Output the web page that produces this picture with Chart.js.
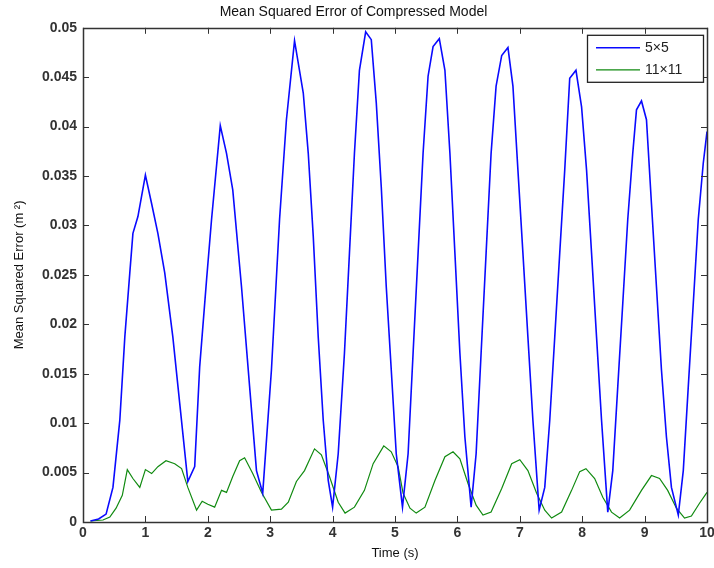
<!DOCTYPE html>
<html>
<head>
<meta charset="utf-8">
<script src="https://cdn.jsdelivr.net/npm/chart.js@4.4.1/dist/chart.umd.min.js"></script>
<style>
  html, body { margin: 0; padding: 0; background: #fff; }
  #mse { display: block; }
</style>
</head>
<body>
<canvas id="mse" width="714" height="568"></canvas>
<script>
// 5x5 kernel error over time
const timeA = [0.12, 0.25, 0.37, 0.48, 0.59, 0.67, 0.75, 0.8, 0.88, 1.0, 1.1, 1.2, 1.31, 1.44, 1.55, 1.68, 1.79, 1.87, 1.98, 2.06,
  2.2, 2.3, 2.4, 2.54, 2.67, 2.78, 2.88, 3.02, 3.15, 3.26, 3.39, 3.53, 3.61, 3.69, 3.77, 3.85, 3.93, 4.0, 4.09, 4.19,
  4.27, 4.35, 4.43, 4.53, 4.62, 4.7, 4.78, 4.86, 4.94, 5.02, 5.12, 5.21, 5.29, 5.37, 5.45, 5.53, 5.61, 5.71, 5.8, 5.88,
  5.96, 6.04, 6.12, 6.22, 6.3, 6.38, 6.46, 6.54, 6.62, 6.71, 6.81, 6.89, 6.97, 7.05, 7.13, 7.21, 7.31, 7.4, 7.48, 7.56,
  7.64, 7.72, 7.8, 7.9, 7.99, 8.07, 8.15, 8.23, 8.31, 8.41, 8.49, 8.57, 8.65, 8.73, 8.81, 8.87, 8.95, 9.03, 9.11, 9.19,
  9.27, 9.35, 9.43, 9.54, 9.62, 9.7, 9.78, 9.86, 9.94, 10.0];
const mse5 = [0.0001, 0.0003, 0.0008, 0.0035, 0.0103, 0.0187, 0.0252, 0.0292, 0.0309, 0.0351, 0.0322, 0.0292, 0.0252, 0.0187, 0.0120, 0.0041, 0.0056, 0.0157, 0.0245, 0.0306,
  0.0401, 0.0373, 0.0336, 0.0238, 0.0137, 0.0052, 0.0029, 0.0154, 0.0306, 0.0407, 0.0487, 0.0434, 0.0373, 0.0289, 0.0187, 0.0103, 0.0042, 0.0015, 0.0069, 0.0171,
  0.0272, 0.0373, 0.0457, 0.0496, 0.0488, 0.0424, 0.0339, 0.0238, 0.0154, 0.0069, 0.0015, 0.0069, 0.0171, 0.0272, 0.0373, 0.0451, 0.0481, 0.0489, 0.0457, 0.0373,
  0.0272, 0.0171, 0.0086, 0.0015, 0.0069, 0.0171, 0.0272, 0.0373, 0.0441, 0.0472, 0.0480, 0.0441, 0.0356, 0.0272, 0.0187, 0.0103, 0.0012, 0.0035, 0.0103, 0.0187,
  0.0272, 0.0356, 0.0449, 0.0457, 0.0420, 0.0356, 0.0272, 0.0187, 0.0103, 0.0010, 0.0052, 0.0137, 0.0221, 0.0306, 0.0373, 0.0417, 0.0426, 0.0407, 0.0322, 0.0238,
  0.0154, 0.0086, 0.0035, 0.0007, 0.0052, 0.0137, 0.0221, 0.0306, 0.0363, 0.0395];

// 11x11 kernel error over time
const timeB = [0.12, 0.32, 0.43, 0.53, 0.63, 0.71, 0.8, 0.91, 1.0, 1.1, 1.2, 1.33, 1.47, 1.58, 1.68, 1.82, 1.91, 2.0, 2.11, 2.22,
  2.3, 2.4, 2.51, 2.59, 2.72, 2.86, 3.02, 3.18, 3.29, 3.42, 3.55, 3.71, 3.82, 3.95, 4.09, 4.2, 4.35, 4.51, 4.65, 4.82,
  4.94, 5.05, 5.13, 5.24, 5.34, 5.48, 5.64, 5.8, 5.93, 6.04, 6.17, 6.3, 6.41, 6.54, 6.71, 6.87, 7.0, 7.13, 7.27, 7.4,
  7.51, 7.67, 7.83, 7.96, 8.06, 8.2, 8.33, 8.47, 8.6, 8.76, 8.95, 9.11, 9.24, 9.37, 9.51, 9.64, 9.75, 9.88, 10.0];
const mse11 = [0.0001, 0.0002, 0.0005, 0.0014, 0.0027, 0.0053, 0.0044, 0.0035, 0.0053, 0.0049, 0.0056, 0.0062, 0.0059, 0.0054, 0.0035, 0.0012, 0.0021, 0.0018, 0.0015, 0.0032,
  0.0030, 0.0046, 0.0062, 0.0065, 0.0049, 0.0030, 0.0012, 0.0013, 0.0020, 0.0041, 0.0052, 0.0074, 0.0068, 0.0046, 0.0020, 0.0009, 0.0015, 0.0032, 0.0059, 0.0077,
  0.0071, 0.0056, 0.0029, 0.0014, 0.0009, 0.0015, 0.0042, 0.0066, 0.0071, 0.0064, 0.0039, 0.0017, 0.0007, 0.0010, 0.0034, 0.0059, 0.0063, 0.0052, 0.0029, 0.0012,
  0.0004, 0.0010, 0.0032, 0.0051, 0.0054, 0.0044, 0.0025, 0.0010, 0.0004, 0.0012, 0.0032, 0.0047, 0.0044, 0.0032, 0.0014, 0.0004, 0.0006, 0.0019, 0.0030];

const seriesNames = ['5\u00d75', '11\u00d711'];
const xTicks = [0, 1, 2, 3, 4, 5, 6, 7, 8, 9, 10];
const yTicks = [0, 0.005, 0.01, 0.015, 0.02, 0.025, 0.03, 0.035, 0.04, 0.045, 0.05];

const toPoints = (xs, ys) => xs.map((x, i) => ({ x: x, y: ys[i] }));

const axisColor = '#333';
const labelFont = { family: 'Liberation Sans, Arial, sans-serif', size: 14, weight: 'bold' };

// matlab style frame: box on all four sides, ticks pointing inward
const framePlugin = {
  id: 'frame',
  afterDatasetsDraw(chart) {
    const { ctx, chartArea: a, scales } = chart;
    const len = 6;
    ctx.save();
    ctx.strokeStyle = axisColor;
    ctx.lineWidth = 1;
    ctx.beginPath();
    xTicks.forEach(v => {
      const px = Math.round(scales.x.getPixelForValue(v)) + 0.5;
      ctx.moveTo(px, a.bottom); ctx.lineTo(px, a.bottom - len);
      ctx.moveTo(px, a.top); ctx.lineTo(px, a.top + len);
    });
    yTicks.forEach(v => {
      const py = Math.round(scales.y.getPixelForValue(v)) + 0.5;
      ctx.moveTo(a.left, py); ctx.lineTo(a.left + len, py);
      ctx.moveTo(a.right, py); ctx.lineTo(a.right - len, py);
    });
    ctx.stroke();
    ctx.lineWidth = 1.5;
    ctx.strokeRect(Math.round(a.left) + 0.5, Math.round(a.top) + 0.5,
      Math.round(a.right - a.left), Math.round(a.bottom - a.top));
    ctx.restore();
  }
};

// legend box in the upper right corner of the axes
const legendBox = {
  id: 'legendBox',
  afterDraw(chart) {
    const { ctx, chartArea: a } = chart;
    const w = 116, h = 47;
    const x0 = a.right - 120, y0 = a.top + 7;
    ctx.save();
    ctx.fillStyle = '#fff';
    ctx.fillRect(x0, y0, w, h);
    ctx.strokeStyle = '#222';
    ctx.lineWidth = 1.3;
    ctx.strokeRect(x0 + 0.5, y0 + 0.5, w, h);
    ctx.font = '14px Liberation Sans, Arial, sans-serif';
    ctx.textBaseline = 'middle';
    chart.data.datasets.forEach((ds, i) => {
      const y = y0 + 13 + i * 22;
      ctx.strokeStyle = ds.borderColor;
      ctx.lineWidth = ds.borderWidth;
      ctx.beginPath();
      ctx.moveTo(x0 + 9, y);
      ctx.lineTo(x0 + 53, y);
      ctx.stroke();
      ctx.fillStyle = '#222';
      ctx.fillText(ds.label, x0 + 58, y);
    });
    ctx.restore();
  }
};

new Chart(document.getElementById('mse'), {
  type: 'line',
  data: {
    datasets: [
      {
        label: seriesNames[0],
        data: toPoints(timeA, mse5),
        borderColor: '#0a0aff',
        borderWidth: 1.6,
        pointRadius: 0,
        tension: 0
      },
      {
        label: seriesNames[1],
        data: toPoints(timeB, mse11),
        borderColor: '#108a10',
        borderWidth: 1.2,
        pointRadius: 0,
        tension: 0
      }
    ]
  },
  options: {
    responsive: false,
    animation: false,
    layout: { padding: { left: 0, right: 7, top: 0, bottom: 0 } },
    plugins: {
      legend: { display: false },
      tooltip: { enabled: false },
      title: {
        display: true,
        text: 'Mean Squared Error of Compressed Model',
        color: '#111',
        font: { family: 'Liberation Sans, Arial, sans-serif', size: 14, weight: 'normal' },
        padding: { top: 4, bottom: 7 }
      }
    },
    scales: {
      x: {
        type: 'linear',
        min: 0,
        max: 10,
        afterBuildTicks: s => { s.ticks = xTicks.map(v => ({ value: v })); },
        afterFit: s => { s.height = 46; s.paddingLeft = 0; s.paddingRight = 0; },
        grid: { display: false, drawTicks: false },
        border: { display: false },
        ticks: { color: axisColor, font: labelFont, padding: 3, maxRotation: 0 },
        title: {
          display: true,
          text: 'Time (s)',
          color: '#111',
          font: { family: 'Liberation Sans, Arial, sans-serif', size: 13 },
          padding: { top: 0, bottom: 7 }
        }
      },
      y: {
        min: 0,
        max: 0.05,
        afterBuildTicks: s => { s.ticks = yTicks.map(v => ({ value: v })); },
        afterFit: s => { s.width = 83; },
        grid: { display: false, drawTicks: false },
        border: { display: false },
        ticks: {
          color: axisColor,
          font: labelFont,
          padding: 6,
          callback: v => String(Number(v.toFixed(3)))
        },
        title: {
          display: true,
          text: 'Mean Squared Error (m \u00b2)',
          color: '#111',
          font: { family: 'Liberation Sans, Arial, sans-serif', size: 13 },
          padding: { top: 12, bottom: 0 }
        }
      }
    }
  },
  plugins: [framePlugin, legendBox]
});
</script>
</body>
</html>
